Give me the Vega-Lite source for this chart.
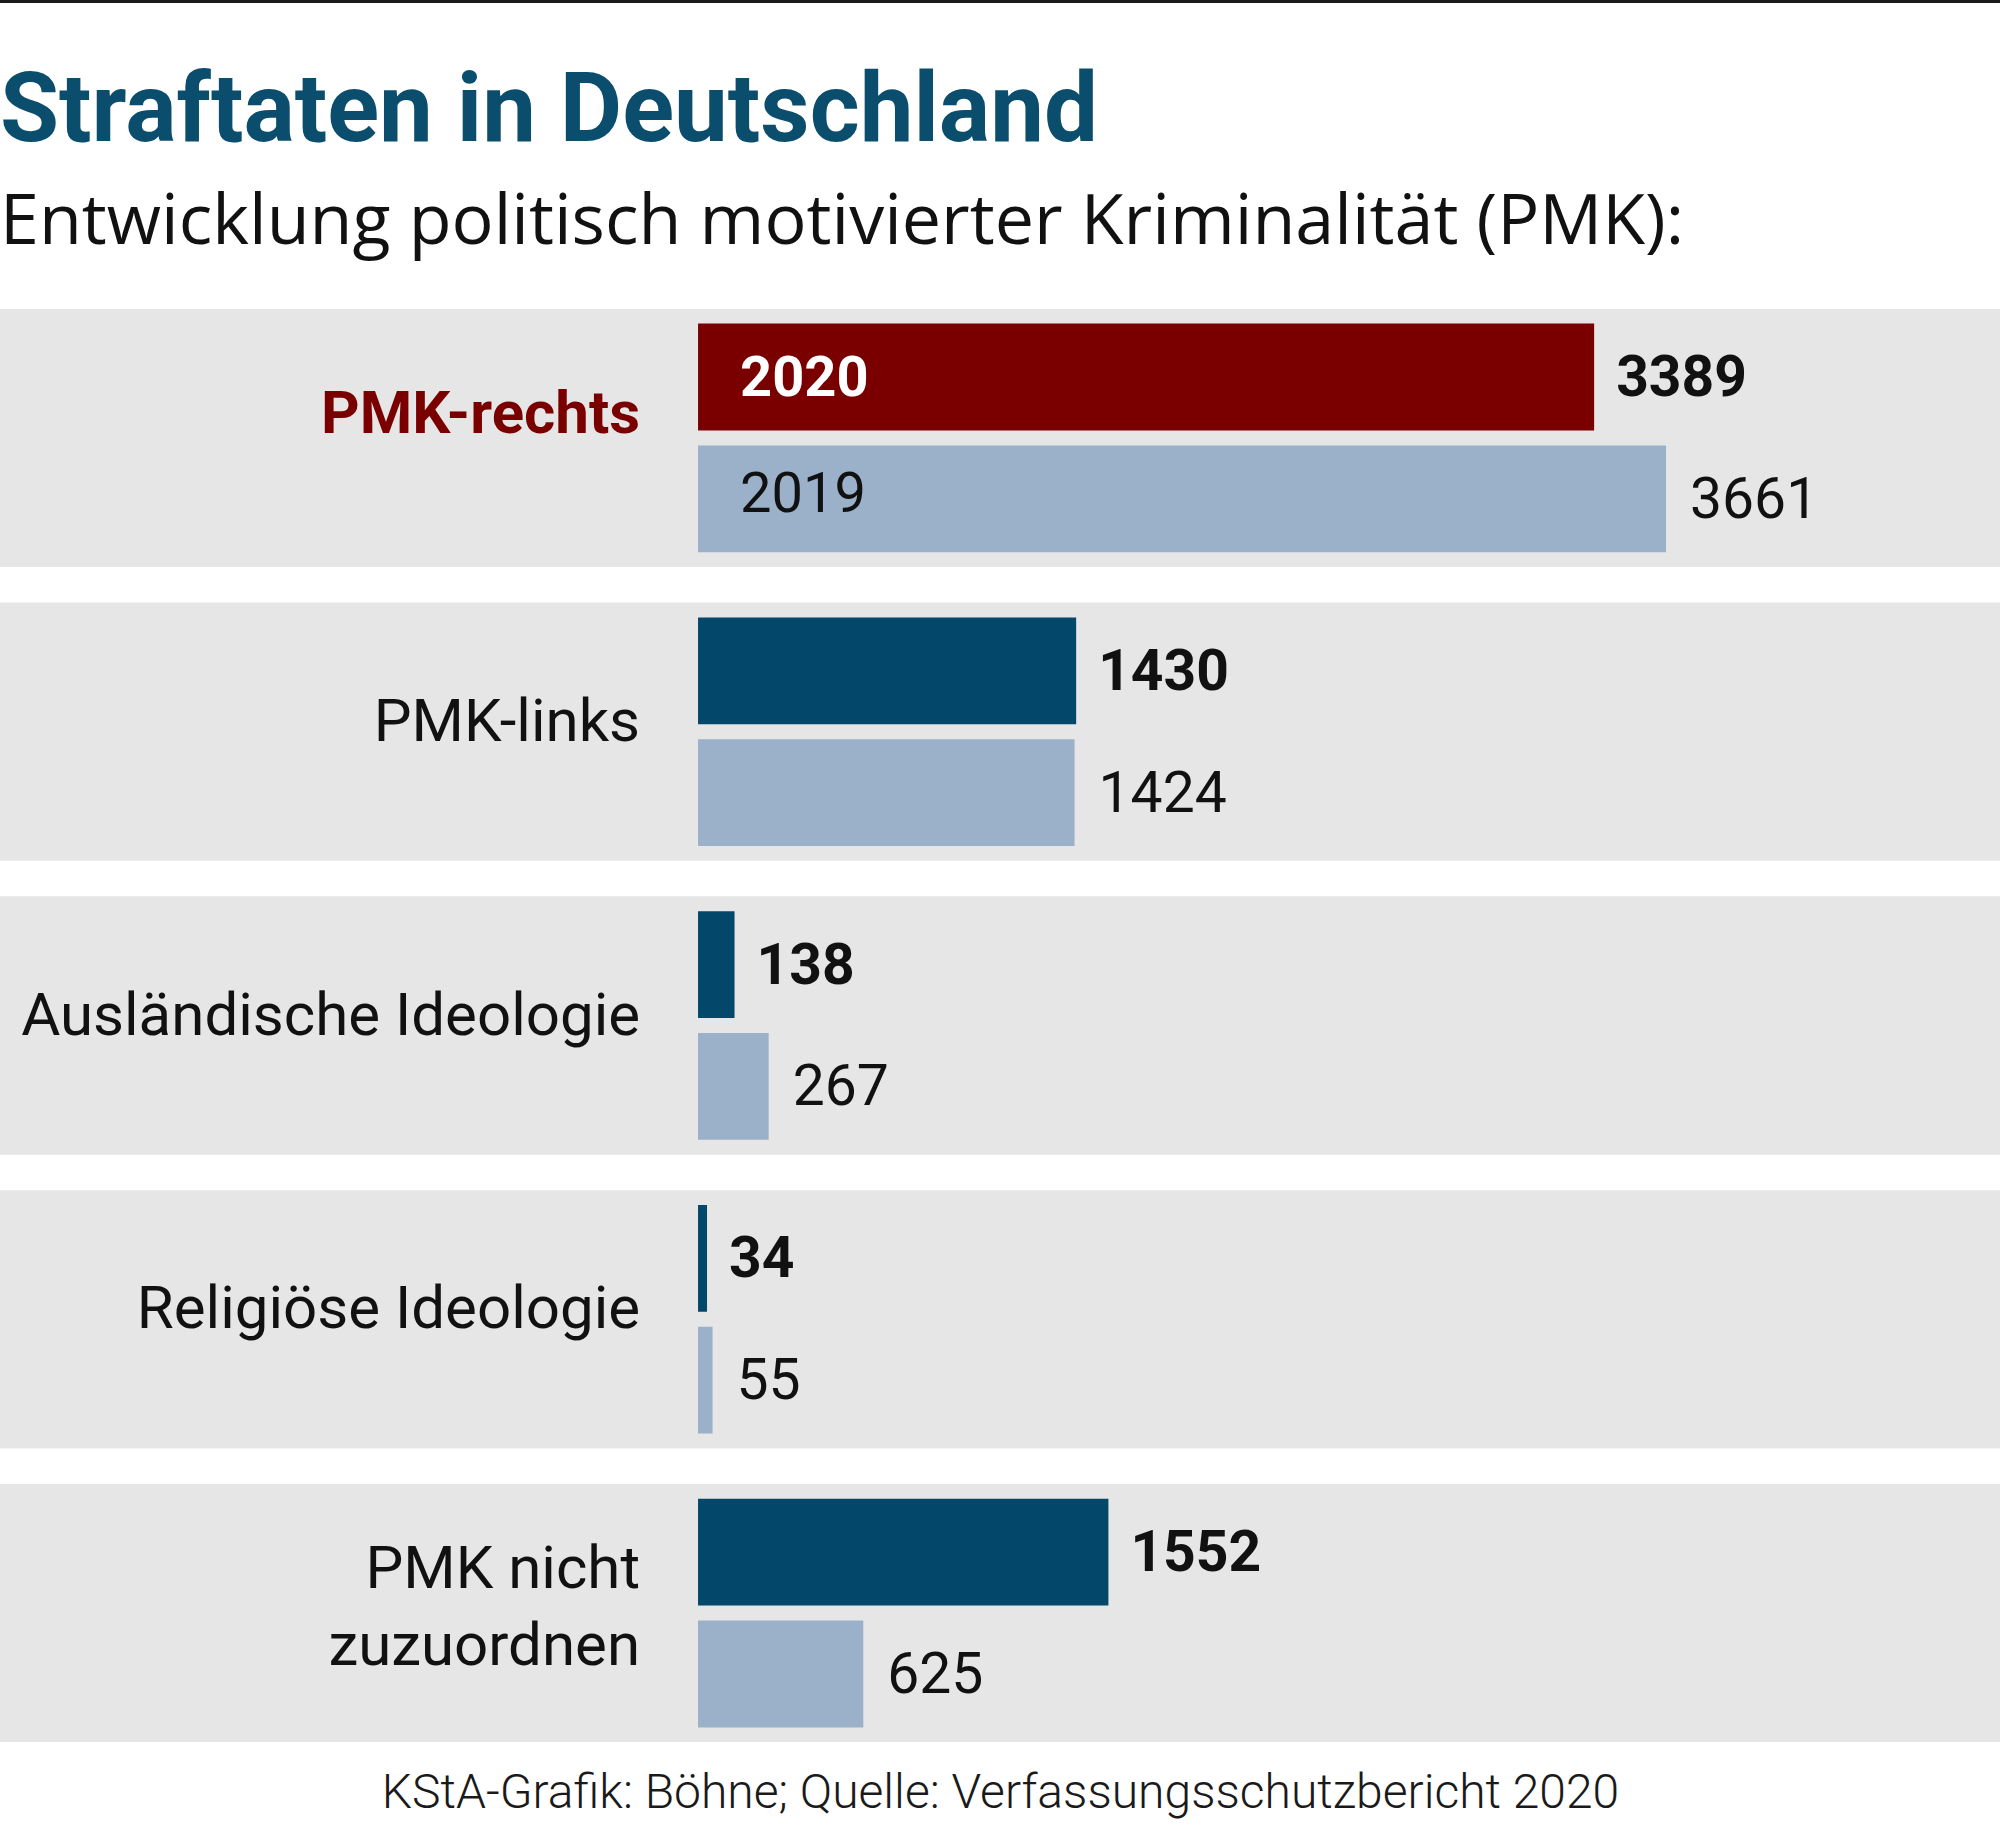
{
  "$schema": "https://vega.github.io/schema/vega-lite/v6.json",
  "padding": {"left": 0, "top": 0, "right": 0, "bottom": 10},
  "background": "#ffffff",
  "spacing": 61,
  "config": {
    "view": {"stroke": null},
    "font": "Roboto, sans-serif",
    "axisX": {
      "labels": false,
      "ticks": false,
      "domain": false,
      "grid": false,
      "titleFont": "Roboto, sans-serif",
      "titleFontSize": 48,
      "titleFontWeight": 300,
      "titleColor": "#1a1a1a",
      "titlePadding": 27
    }
  },
  "datasets": {
    "werte": [
      {"kategorie": "PMK-rechts", "jahr": "2020", "anzahl": 3389},
      {"kategorie": "PMK-rechts", "jahr": "2019", "anzahl": 3661},
      {"kategorie": "PMK-links", "jahr": "2020", "anzahl": 1430},
      {"kategorie": "PMK-links", "jahr": "2019", "anzahl": 1424},
      {"kategorie": "Ausländische Ideologie", "jahr": "2020", "anzahl": 138},
      {"kategorie": "Ausländische Ideologie", "jahr": "2019", "anzahl": 267},
      {"kategorie": "Religiöse Ideologie", "jahr": "2020", "anzahl": 34},
      {"kategorie": "Religiöse Ideologie", "jahr": "2019", "anzahl": 55},
      {"kategorie": "PMK nicht zuzuordnen", "jahr": "2020", "anzahl": 1552},
      {"kategorie": "PMK nicht zuzuordnen", "jahr": "2019", "anzahl": 625}
    ],
    "kategorien": [
      {"kategorie": "PMK-rechts", "beschriftung": "PMK-rechts"},
      {"kategorie": "PMK-links", "beschriftung": "PMK-links"},
      {"kategorie": "Ausländische Ideologie", "beschriftung": "Ausländische Ideologie"},
      {"kategorie": "Religiöse Ideologie", "beschriftung": "Religiöse Ideologie"},
      {"kategorie": "PMK nicht zuzuordnen", "beschriftung": "PMK nicht\nzuzuordnen"}
    ]
  },
  "vconcat": [
    {
      "width": 2000,
      "height": 3,
      "view": {"fill": "#1a1a1a", "stroke": null},
      "data": {"values": [{}]},
      "mark": {"type": "rect", "color": "#1a1a1a"},
      "encoding": {}
    },
    {
      "width": 2000,
      "height": 1433,
      "title": {
        "text": "Straftaten in Deutschland",
        "subtitle": "Entwicklung politisch motivierter Kriminalität (PMK):",
        "anchor": "start",
        "frame": "group",
        "font": "Roboto, sans-serif",
        "fontSize": 96,
        "fontWeight": "bold",
        "color": "#0b4d6d",
        "subtitleFont": "Open Sans",
        "subtitleFontSize": 70,
        "subtitleFontWeight": "normal",
        "subtitleColor": "#111111",
        "subtitlePadding": 28,
        "offset": 50
      },
      "data": {"name": "werte"},
      "encoding": {
        "y": {
          "field": "kategorie",
          "type": "nominal",
          "sort": null,
          "scale": {"paddingInner": 0.1224, "paddingOuter": 0},
          "axis": null
        }
      },
      "layer": [
        {
          "mark": {"type": "rect", "color": "#e6e6e6"}
        },
        {
          "mark": {"type": "bar"},
          "encoding": {
            "yOffset": {
              "field": "jahr",
              "type": "nominal",
              "sort": ["2020", "2019"],
              "scale": {"paddingInner": 0.123, "paddingOuter": 0.12}
            },
            "x": {
              "field": "anzahl",
              "type": "quantitative",
              "stack": null,
              "scale": {"domain": [-2640, 4924], "nice": false, "zero": false},
              "title": "KStA-Grafik: Böhne; Quelle: Verfassungsschutzbericht 2020"
            },
            "color": {
              "condition": {
                "test": "datum.kategorie === 'PMK-rechts' && datum.jahr === '2020'",
                "value": "#7a0000"
              },
              "field": "jahr",
              "type": "nominal",
              "scale": {"domain": ["2020", "2019"], "range": ["#03476a", "#9bb0c9"]},
              "legend": null
            }
          }
        },
        {
          "data": {"name": "kategorien"},
          "transform": [{"filter": "datum.kategorie !== 'PMK-rechts' && datum.kategorie !== 'PMK nicht zuzuordnen'"}],
          "mark": {
            "type": "text",
            "align": "right",
            "baseline": "middle",
            "dx": -58,
            "dy": -9,
            "fontSize": 60,
            "color": "#111111"
          },
          "encoding": {
            "x": {"datum": 0, "type": "quantitative", "title": "KStA-Grafik: Böhne; Quelle: Verfassungsschutzbericht 2020"},
            "text": {"field": "beschriftung"}
          }
        },
        {
          "data": {"name": "kategorien"},
          "transform": [{"filter": "datum.kategorie === 'PMK nicht zuzuordnen'"}],
          "mark": {
            "type": "text",
            "align": "right",
            "baseline": "middle",
            "dx": -58,
            "dy": -43,
            "fontSize": 60,
            "color": "#111111",
            "lineBreak": "\n",
            "lineHeight": 77
          },
          "encoding": {
            "x": {"datum": 0, "type": "quantitative", "title": "KStA-Grafik: Böhne; Quelle: Verfassungsschutzbericht 2020"},
            "text": {"field": "beschriftung"}
          }
        },
        {
          "data": {"name": "kategorien"},
          "transform": [{"filter": "datum.kategorie === 'PMK-rechts'"}],
          "mark": {
            "type": "text",
            "align": "right",
            "baseline": "middle",
            "dx": -58,
            "dy": -23,
            "fontSize": 60,
            "fontWeight": "bold",
            "color": "#7a0000"
          },
          "encoding": {
            "x": {"datum": 0, "type": "quantitative", "title": "KStA-Grafik: Böhne; Quelle: Verfassungsschutzbericht 2020"},
            "text": {"field": "beschriftung"}
          }
        },
        {
          "transform": [{"filter": "datum.jahr === '2020'"}],
          "mark": {
            "type": "text",
            "align": "left",
            "baseline": "middle",
            "dx": 22,
            "dy": 2,
            "fontSize": 57,
            "fontWeight": "bold",
            "color": "#111111"
          },
          "encoding": {
            "yOffset": {"field": "jahr", "type": "nominal", "sort": ["2020", "2019"]},
            "x": {"field": "anzahl", "type": "quantitative", "title": "KStA-Grafik: Böhne; Quelle: Verfassungsschutzbericht 2020"},
            "text": {"field": "anzahl", "type": "quantitative", "format": "d"}
          }
        },
        {
          "transform": [{"filter": "datum.jahr === '2019'"}],
          "mark": {
            "type": "text",
            "align": "left",
            "baseline": "middle",
            "dx": 24,
            "dy": 2,
            "fontSize": 57,
            "color": "#111111"
          },
          "encoding": {
            "yOffset": {"field": "jahr", "type": "nominal", "sort": ["2020", "2019"]},
            "x": {"field": "anzahl", "type": "quantitative", "title": "KStA-Grafik: Böhne; Quelle: Verfassungsschutzbericht 2020"},
            "text": {"field": "anzahl", "type": "quantitative", "format": "d"}
          }
        },
        {
          "transform": [{"filter": "datum.kategorie === 'PMK-rechts' && datum.jahr === '2020'"}],
          "mark": {
            "type": "text",
            "align": "left",
            "baseline": "middle",
            "dx": 42,
            "dy": 2,
            "fontSize": 56,
            "fontWeight": "bold",
            "color": "#ffffff"
          },
          "encoding": {
            "yOffset": {"field": "jahr", "type": "nominal", "sort": ["2020", "2019"]},
            "x": {"datum": 0, "type": "quantitative", "title": "KStA-Grafik: Böhne; Quelle: Verfassungsschutzbericht 2020"},
            "text": {"field": "jahr"}
          }
        },
        {
          "transform": [{"filter": "datum.kategorie === 'PMK-rechts' && datum.jahr === '2019'"}],
          "mark": {
            "type": "text",
            "align": "left",
            "baseline": "middle",
            "dx": 42,
            "dy": -4,
            "fontSize": 56,
            "color": "#111111"
          },
          "encoding": {
            "yOffset": {"field": "jahr", "type": "nominal", "sort": ["2020", "2019"]},
            "x": {"datum": 0, "type": "quantitative", "title": "KStA-Grafik: Böhne; Quelle: Verfassungsschutzbericht 2020"},
            "text": {"field": "jahr"}
          }
        }
      ]
    }
  ]
}
